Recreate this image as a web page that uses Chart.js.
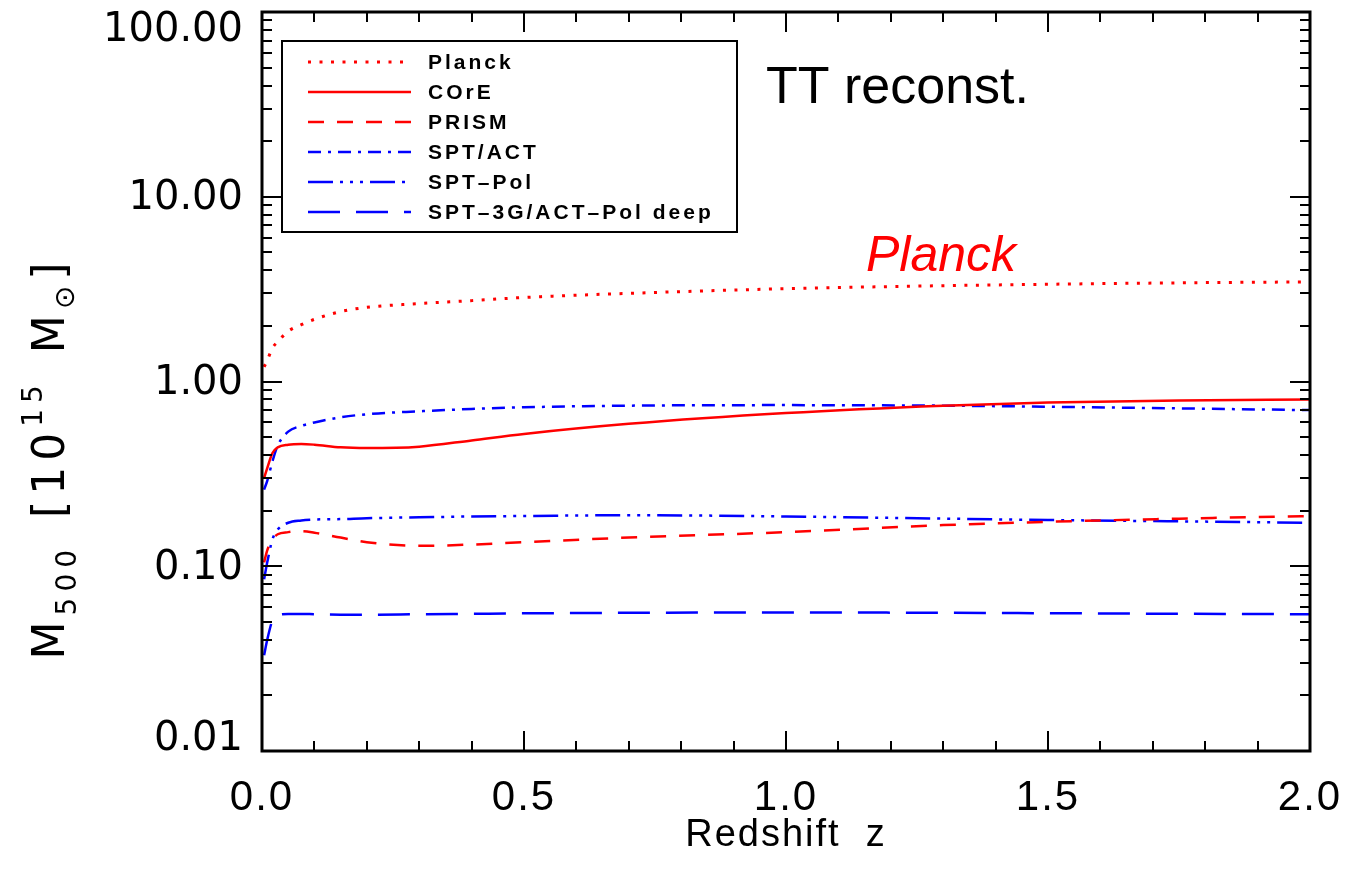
<!DOCTYPE html>
<html>
<head>
<meta charset="utf-8">
<script src="https://cdn.jsdelivr.net/npm/chart.js@4.4.0/dist/chart.umd.min.js"></script>
<style>
  html, body { margin: 0; padding: 0; background: #fff; }
  #wrap { width: 1364px; height: 870px; }
</style>
</head>
<body>
<div id="wrap"><canvas id="chart"></canvas></div>
<script>
// redshift grid shared by all curves
const redshift = [0.004, 0.01, 0.02, 0.03, 0.05, 0.075, 0.1, 0.15, 0.2, 0.3, 0.4, 0.5, 0.7, 1.0, 1.3, 1.5, 1.75, 2.0]

// M500 in units of 1e15 Msun
const planck = [1.2, 1.3, 1.52, 1.64, 1.87, 2.03, 2.17, 2.39, 2.52, 2.64, 2.74, 2.85, 3.0, 3.18, 3.3, 3.36, 3.42, 3.46]
const core = [0.3, 0.34, 0.41, 0.44, 0.455, 0.459, 0.455, 0.44, 0.436, 0.444, 0.48, 0.52, 0.59, 0.675, 0.74, 0.77, 0.79, 0.8]
const prism = [0.105, 0.122, 0.14, 0.149, 0.153, 0.155, 0.152, 0.143, 0.135, 0.129, 0.131, 0.135, 0.143, 0.153, 0.167, 0.174, 0.181, 0.187]
const sptAct = [0.26, 0.29, 0.37, 0.45, 0.535, 0.575, 0.6, 0.64, 0.665, 0.69, 0.71, 0.725, 0.74, 0.745, 0.74, 0.73, 0.715, 0.7]
const sptPol = [0.085, 0.105, 0.14, 0.158, 0.172, 0.177, 0.179, 0.18, 0.182, 0.184, 0.186, 0.187, 0.189, 0.186, 0.181, 0.178, 0.175, 0.172]
const spt3g = [0.033, 0.04, 0.051, 0.0545, 0.0552, 0.0552, 0.055, 0.0547, 0.0546, 0.055, 0.0553, 0.0556, 0.056, 0.0562, 0.056, 0.0557, 0.0553, 0.055]

const seriesNames = ['Planck', 'COrE', 'PRISM', 'SPT/ACT', 'SPT\u2013Pol', 'SPT\u20133G/ACT\u2013Pol deep']
const yTickValues = [0.01, 0.1, 1, 10, 100]
const xTickValues = [0, 0.5, 1, 1.5, 2]

const RED = '#ff0000'
const BLUE = '#0000ff'

function toPoints(values) {
  return redshift.map((z, i) => ({ x: z, y: values[i] }))
}

function line(label, values, color, dash, width) {
  return {
    label,
    data: toPoints(values),
    borderColor: color,
    borderDash: dash,
    borderWidth: width,
    borderCapStyle: 'butt',
    pointRadius: 0,
    fill: false,
    cubicInterpolationMode: 'monotone',
  }
}

// frame + inward ticks on all four sides, like the IDL plot
const frameTicks = {
  id: 'frameTicks',
  afterDatasetsDraw(chart) {
    const { ctx, chartArea: a, scales } = chart
    const x = scales.x
    const y = scales.y
    ctx.save()
    ctx.strokeStyle = '#000'
    ctx.lineWidth = 2
    ctx.beginPath()
    for (let i = 0; i <= 20; i++) {
      const px = Math.round(x.getPixelForValue(i / 10))
      const len = i % 5 === 0 ? 20 : 10
      ctx.moveTo(px, a.bottom); ctx.lineTo(px, a.bottom - len)
      ctx.moveTo(px, a.top); ctx.lineTo(px, a.top + len)
    }
    for (let d = 0; d < yTickValues.length; d++) {
      const base = yTickValues[d]
      for (let m = 1; m <= 9; m++) {
        if (d === yTickValues.length - 1 && m > 1) break
        const py = Math.round(y.getPixelForValue(base * m))
        const len = m === 1 ? 20 : 10
        ctx.moveTo(a.left, py); ctx.lineTo(a.left + len, py)
        ctx.moveTo(a.right, py); ctx.lineTo(a.right - len, py)
      }
    }
    ctx.stroke()
    ctx.lineWidth = 3
    ctx.strokeRect(a.left, a.top, a.right - a.left, a.bottom - a.top)

    // y tick labels, kept inside the frame at the ends
    ctx.letterSpacing = '0px'
    ctx.fillStyle = '#000'
    ctx.font = '40px "DejaVu Sans"'
    ctx.textAlign = 'right'
    ctx.textBaseline = 'middle'
    yTickValues.forEach((v) => {
      let py = y.getPixelForValue(v)
      py = Math.min(Math.max(py, a.top + 17), a.bottom - 13)
      ctx.fillText(v.toFixed(2), a.left - 19, py + 2)
    })
    ctx.restore()
  },
}

// legend box, annotations and rotated y title
const extras = {
  id: 'extras',
  beforeDraw(chart) {
    chart.ctx.letterSpacing = '2px'
  },
  beforeDatasetsDraw(chart) {
    chart.ctx.letterSpacing = '0px'
  },
  afterDraw(chart) {
    const ctx = chart.ctx
    ctx.save()
    ctx.letterSpacing = '0px'

    // legend
    ctx.strokeStyle = '#000'
    ctx.lineWidth = 2
    ctx.setLineDash([])
    ctx.strokeRect(282, 41, 455, 191)
    ctx.font = 'bold 21px "Liberation Sans"'
    ctx.letterSpacing = '3px'
    ctx.fillStyle = '#000'
    ctx.textAlign = 'left'
    ctx.textBaseline = 'middle'
    chart.data.datasets.forEach((ds, i) => {
      const ly = 62 + i * 30
      ctx.strokeStyle = ds.borderColor
      ctx.lineWidth = ds.borderWidth
      ctx.setLineDash(ds.borderDash)
      ctx.beginPath()
      ctx.moveTo(308, ly)
      ctx.lineTo(411, ly)
      ctx.stroke()
      ctx.fillText(seriesNames[i], 428, ly + 1)
    })
    ctx.setLineDash([])

    // annotations
    ctx.letterSpacing = '0px'
    ctx.textBaseline = 'alphabetic'
    ctx.font = '52px "Liberation Sans"'
    ctx.fillStyle = '#000'
    ctx.fillText('TT reconst.', 766, 103)
    ctx.font = 'italic 50px "Liberation Sans"'
    ctx.fillStyle = RED
    ctx.fillText('Planck', 866, 271)

    // y axis title: M_500 [10^15 M_sun]
    const parts = [
      { t: 'M', size: 44, dy: 0 },
      { t: '500', size: 28, dy: 12 },
      { t: '[', size: 44, dy: 0, gap: 26 },
      { t: '10', size: 44, dy: 0 },
      { t: '15', size: 28, dy: -22 },
      { t: 'M', size: 44, dy: 0, gap: 26 },
      { t: '\u2299', size: 28, dy: 10 },
      { t: ']', size: 44, dy: 0 },
    ]
    ctx.letterSpacing = '6px'
    let total = 0
    parts.forEach((p) => {
      ctx.font = p.size + 'px "DejaVu Sans"'
      p.w = ctx.measureText(p.t).width
      total += (p.gap || 0) + p.w
    })
    ctx.translate(64, 458)
    ctx.rotate(-Math.PI / 2)
    ctx.fillStyle = '#000'
    let cx = -total / 2
    parts.forEach((p) => {
      ctx.font = p.size + 'px "DejaVu Sans"'
      cx += p.gap || 0
      ctx.fillText(p.t, cx, p.dy)
      cx += p.w
    })
    ctx.restore()
  },
}

new Chart(document.getElementById('chart'), {
  type: 'line',
  data: {
    datasets: [
      line('Planck', planck, RED, [3, 8.5], 3),
      line('COrE', core, RED, [], 2.5),
      line('PRISM', prism, RED, [16, 13], 2.5),
      line('SPT/ACT', sptAct, BLUE, [13, 7, 3, 7], 2.5),
      line('SPT-Pol', sptPol, BLUE, [25, 7, 3, 7, 3, 7, 3, 7], 2.5),
      line('SPT-3G/ACT-Pol deep', spt3g, BLUE, [32, 16], 2.5),
    ],
  },
  options: {
    responsive: true,
    maintainAspectRatio: false,
    animation: false,
    devicePixelRatio: 1,
    layout: { padding: { top: 12, right: 54, bottom: 0, left: 0 } },
    plugins: { legend: { display: false }, tooltip: { enabled: false } },
    scales: {
      x: {
        type: 'linear',
        min: 0,
        max: 2,
        afterBuildTicks: (s) => { s.ticks = xTickValues.map((v) => ({ value: v })) },
        afterFit: (s) => { s.height = 119; s.paddingLeft = 0; s.paddingRight = 0 },
        grid: { display: false, drawTicks: false },
        border: { display: false },
        ticks: {
          color: '#000',
          font: { family: 'Liberation Sans', size: 42 },
          padding: 22,
          maxRotation: 0,
          callback: (v) => Number(v).toFixed(1),
        },
        title: {
          display: true,
          text: 'Redshift  z',
          color: '#000',
          font: { family: 'Liberation Sans', size: 38 },
          padding: { top: 0, bottom: 12 },
        },
      },
      y: {
        type: 'logarithmic',
        min: 0.01,
        max: 100,
        afterBuildTicks: (s) => { s.ticks = yTickValues.map((v) => ({ value: v })) },
        afterFit: (s) => { s.width = 262; s.paddingTop = 0; s.paddingBottom = 0 },
        grid: { display: false, drawTicks: false },
        border: { display: false },
        ticks: { display: false },
      },
    },
  },
  plugins: [frameTicks, extras],
})
</script>
</body>
</html>
